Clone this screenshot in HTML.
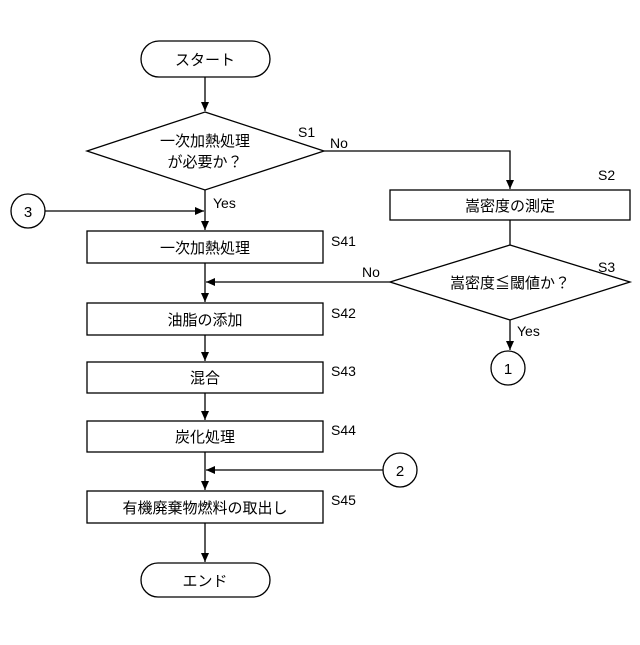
<!DOCTYPE html>
<html><head><meta charset="utf-8"><style>body{margin:0;background:#fff}</style></head><body>
<svg width="640" height="640" xmlns="http://www.w3.org/2000/svg" font-family="Liberation Sans, Noto Sans CJK JP, sans-serif" font-size="15">
<defs><marker id="a" markerWidth="10" markerHeight="10" refX="9" refY="5" orient="auto" markerUnits="userSpaceOnUse"><path d="M0,1 L9,5 L0,9 z" fill="#000"/></marker></defs>
<g stroke="#000" stroke-width="1.3" fill="none">
<rect x="141" y="41" width="129" height="36" rx="18" fill="#fff"/>
<line x1="205" y1="77" x2="205" y2="111" marker-end="url(#a)"/>
<polygon points="205,112 324,151 205,190 87,151" fill="#fff"/>
<polyline points="324,151 510,151 510,189" marker-end="url(#a)"/>
<rect x="390" y="190" width="240" height="30" fill="#fff"/>
<line x1="510" y1="220" x2="510" y2="245"/>
<polygon points="510,245 630,282 510,320 390,282" fill="#fff"/>
<line x1="390" y1="282" x2="206" y2="282" marker-end="url(#a)"/>
<line x1="510" y1="320" x2="510" y2="350" marker-end="url(#a)"/>
<circle cx="508" cy="368" r="17" fill="#fff"/>
<circle cx="28" cy="211" r="17" fill="#fff"/>
<line x1="45" y1="211" x2="204" y2="211" marker-end="url(#a)"/>
<line x1="205" y1="190" x2="205" y2="230" marker-end="url(#a)"/>
<rect x="87" y="231" width="236" height="32" fill="#fff"/>
<line x1="205" y1="263" x2="205" y2="302" marker-end="url(#a)"/>
<rect x="87" y="303" width="236" height="32" fill="#fff"/>
<line x1="205" y1="335" x2="205" y2="361" marker-end="url(#a)"/>
<rect x="87" y="362" width="236" height="31" fill="#fff"/>
<line x1="205" y1="393" x2="205" y2="420" marker-end="url(#a)"/>
<rect x="87" y="421" width="236" height="31" fill="#fff"/>
<line x1="205" y1="452" x2="205" y2="490" marker-end="url(#a)"/>
<circle cx="400" cy="470" r="17" fill="#fff"/>
<line x1="383" y1="470" x2="206" y2="470" marker-end="url(#a)"/>
<rect x="87" y="491" width="236" height="32" fill="#fff"/>
<line x1="205" y1="523" x2="205" y2="562" marker-end="url(#a)"/>
<rect x="141" y="563" width="129" height="34" rx="17" fill="#fff"/>
</g>
<g text-anchor="middle">
<text x="205" y="65">スタート</text>
<text x="205" y="146">一次加熱処理</text>
<text x="205" y="167">が必要か？</text>
<text x="510" y="211">嵩密度の測定</text>
<text x="510" y="288">嵩密度≦閾値か？</text>
<text x="205" y="253">一次加熱処理</text>
<text x="205" y="325">油脂の添加</text>
<text x="205" y="383">混合</text>
<text x="205" y="442">炭化処理</text>
<text x="205" y="513">有機廃棄物燃料の取出し</text>
<text x="205" y="586">エンド</text>
<text x="508" y="374">1</text>
<text x="28" y="217">3</text>
<text x="400" y="476">2</text>
</g>
<g font-size="14">
<text x="298" y="137">S1</text>
<text x="330" y="148">No</text>
<text x="598" y="180">S2</text>
<text x="598" y="272">S3</text>
<text x="362" y="277">No</text>
<text x="517" y="336">Yes</text>
<text x="213" y="208">Yes</text>
<text x="331" y="246">S41</text>
<text x="331" y="318">S42</text>
<text x="331" y="376">S43</text>
<text x="331" y="435">S44</text>
<text x="331" y="505">S45</text>
</g>
</svg>
</body></html>
